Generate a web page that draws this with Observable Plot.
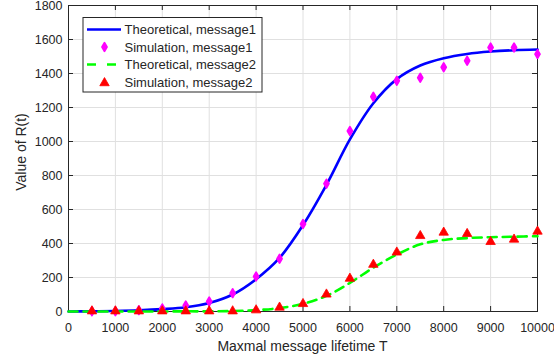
<!DOCTYPE html>
<html><head><meta charset="utf-8">
<script src="https://cdn.jsdelivr.net/npm/d3@7"></script>
<script src="https://cdn.jsdelivr.net/npm/@observablehq/plot@0.6"></script>
<style>body{margin:0;background:#fff}#chart{position:relative;width:554px;height:362px}</style>
</head><body><div id="chart"></div>
<script>
// ---- data ----
const lifetime   = [0,500,1000,1500,2000,2500,3000,3500,4000,4500,5000,5500,6000,6500,7000,7500,8000,8500,9000,9500,10000];
const theoryMsg1 = [0,1,3,7,14,25,50,100,190,315,508,745,1012,1225,1367,1447,1490,1515,1529,1537,1541];
const theoryMsg2 = [0,0,0,0,0,1,1,3,8,20,45,92,168,258,335,395,421,432,437,440,443];
const simLifetime = [500,1000,1500,2000,2500,3000,3500,4000,4500,5000,5500,6000,6500,7000,7500,8000,8500,9000,9500,10000];
const simMsg1 = [1,2,8,18,35,59,108,206,310,515,752,1062,1263,1357,1375,1437,1475,1553,1553,1514];
const simMsg2 = [2,2,2,2,2,2,2,8,24,45,101,194,276,348,445,465,457,410,424,471];
const xTicks = [0,1000,2000,3000,4000,5000,6000,7000,8000,9000,10000];
const yTicks = [0,200,400,600,800,1000,1200,1400,1600,1800];
const seriesNames = ["Theoretical, message1","Simulation, message1","Theoretical, message2","Simulation, message2"];
const xLabel = "Maxmal message lifetime T";
const yLabel = "Value of R(t)";

// ---- build ----
const W = 554, H = 362, mL = 68, mR = 17, mT = 5, mB = 51;
const fw = W - mL - mR, fh = H - mT - mB, tk = 5;
const ink = "#262626";
const theory1 = lifetime.map((t, i) => ({t, v: theoryMsg1[i]}));
const theory2 = lifetime.map((t, i) => ({t, v: theoryMsg2[i]}));
const sim1 = simLifetime.map((t, i) => ({t, v: simMsg1[i]}));
const sim2 = simLifetime.map((t, i) => ({t, v: simMsg2[i]}));
const col = {b: "#0000ff", m: "#ff00ff", g: "#00ff00", r: "#ff0000"};
const diamondR = 2.6, diamondSW = 1.8, triR = 3.5;

const plot = Plot.plot({
  width: W, height: H, marginLeft: mL, marginRight: mR, marginTop: mT, marginBottom: mB,
  style: {fontFamily: "'Liberation Sans', Arial, sans-serif", fontSize: "12.5px", color: ink, background: "#fff", overflow: "visible"},
  x: {domain: [0, 10000]},
  y: {domain: [0, 1800]},
  marks: [
    Plot.gridX(xTicks, {stroke: "#e0e0e0", strokeOpacity: 1, strokeWidth: 1}),
    Plot.gridY(yTicks, {stroke: "#e0e0e0", strokeOpacity: 1, strokeWidth: 1}),
    Plot.axisX(xTicks, {tickSize: 0, tickPadding: 12, tickFormat: d => String(d), label: null, fill: ink}),
    Plot.axisY(yTicks, {tickSize: 0, tickPadding: 6, tickFormat: d => String(d), label: null, fill: ink}),
    Plot.ruleX(xTicks, {x: d => d, insetTop: fh - tk, stroke: ink}),
    Plot.ruleX(xTicks, {x: d => d, insetBottom: fh - tk, stroke: ink}),
    Plot.ruleY(yTicks, {y: d => d, insetRight: fw - tk, stroke: ink}),
    Plot.ruleY(yTicks, {y: d => d, insetLeft: fw - tk, stroke: ink}),
    Plot.frame({stroke: ink}),
    Plot.line(theory1, {x: "t", y: "v", stroke: col.b, strokeWidth: 2.6, curve: "catmull-rom"}),
    Plot.dot(sim1, {x: "t", y: "v", symbol: "diamond", r: diamondR, fill: col.m, stroke: col.m, strokeWidth: diamondSW, strokeLinejoin: "round"}),
    Plot.line(theory2, {x: "t", y: "v", stroke: col.g, strokeWidth: 2.6, strokeDasharray: "9,6", curve: "catmull-rom"}),
    Plot.dot(sim2, {x: "t", y: "v", symbol: "triangle", r: triR, fill: col.r, stroke: col.r, strokeWidth: 0.8})
  ]
});
document.getElementById("chart").appendChild(plot);

const svg = d3.select(plot);
const font = "'Liberation Sans', Arial, sans-serif";
// axis titles
svg.append("text").attr("x", mL + fw / 2).attr("y", 351).attr("text-anchor", "middle")
  .attr("font-family", font).attr("font-size", "14px").attr("fill", ink).text(xLabel);
svg.append("text").attr("transform", "translate(26,152) rotate(-90)").attr("text-anchor", "middle")
  .attr("font-family", font).attr("font-size", "14px").attr("fill", ink).text(yLabel);

// legend
const lg = svg.append("g");
lg.append("rect").attr("x", 83).attr("y", 17.5).attr("width", 179).attr("height", 74.5)
  .attr("fill", "#fff").attr("stroke", ink).attr("stroke-width", 1);
const rowsY = [29.5, 47, 64.5, 82];
const lx0 = 87, lx1 = 121, mx = 104.5, tx = 124.5;
lg.append("line").attr("x1", lx0).attr("x2", lx1).attr("y1", rowsY[0]).attr("y2", rowsY[0])
  .attr("stroke", col.b).attr("stroke-width", 2.6);
lg.append("path").attr("d", d3.symbol(d3.symbolDiamond, diamondR * diamondR * Math.PI)())
  .attr("transform", `translate(${mx},${rowsY[1]})`).attr("fill", col.m).attr("stroke", col.m)
  .attr("stroke-width", diamondSW).attr("stroke-linejoin", "round");
lg.append("line").attr("x1", lx0).attr("x2", lx1).attr("y1", rowsY[2]).attr("y2", rowsY[2])
  .attr("stroke", col.g).attr("stroke-width", 2.6).attr("stroke-dasharray", "9,11");
lg.append("path").attr("d", d3.symbol(d3.symbolTriangle, triR * triR * Math.PI)())
  .attr("transform", `translate(${mx},${rowsY[3] + 1})`).attr("fill", col.r).attr("stroke", col.r).attr("stroke-width", 0.8);
seriesNames.forEach((s, i) => {
  lg.append("text").attr("x", tx).attr("y", rowsY[i]).attr("dy", "0.35em").attr("text-anchor", "start")
    .attr("font-family", font).attr("font-size", "13px").attr("fill", ink).text(s);
});
</script>
</body></html>
